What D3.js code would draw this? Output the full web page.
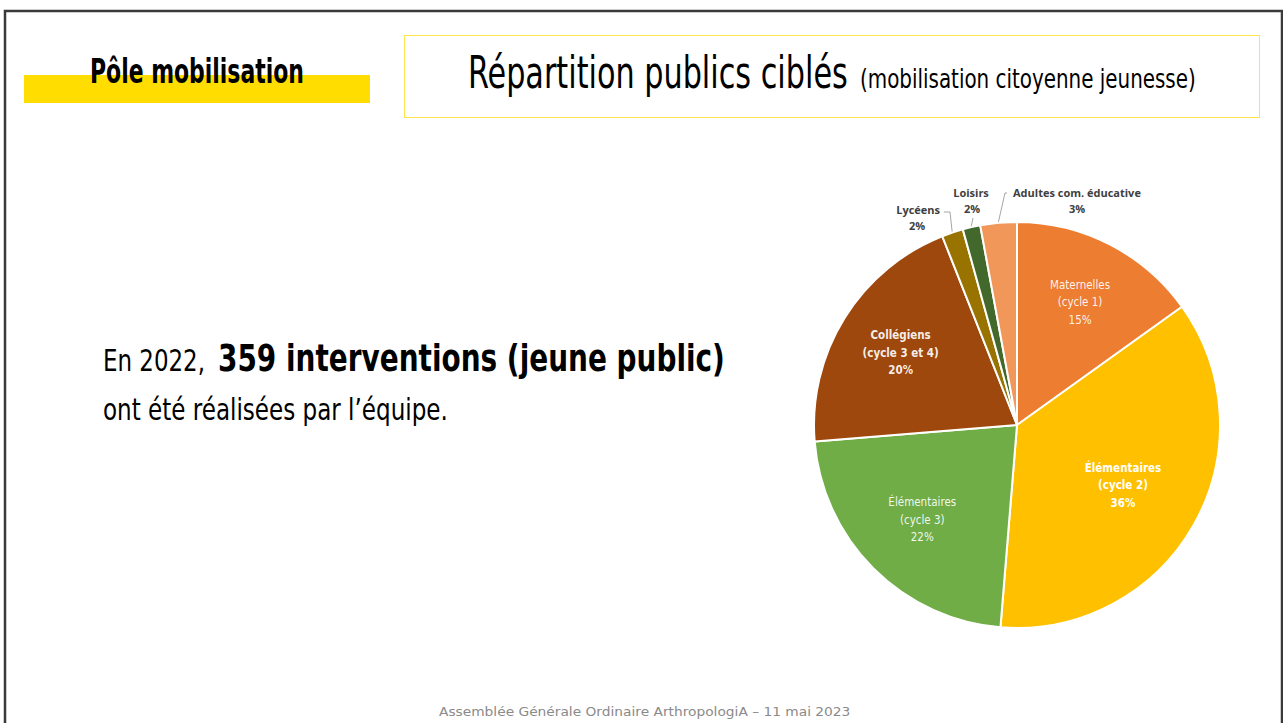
<!DOCTYPE html>
<html><head><meta charset="utf-8">
<script src="https://cdn.jsdelivr.net/npm/d3@7"></script>
<style>
html,body{margin:0;padding:0;background:#fff;overflow:hidden}
svg{display:block}
</style></head>
<body>
<script>
// ---- data ----
const categories = ["Maternelles", "Élémentaires", "Élémentaires", "Collégiens", "Lycéens", "Loisirs", "Adultes com. éducative"];
const subLabels = ["(cycle 1)", "(cycle 2)", "(cycle 3)", "(cycle 3 et 4)", "", "", ""];
const shares = [15.1, 36.2, 22.4, 20.3, 1.7, 1.4, 2.9];
const percentLabels = ["15%", "36%", "22%", "20%", "2%", "2%", "3%"];
const colors = ["#ED7D31", "#FFC000", "#70AD47", "#9E480E", "#997300", "#43682B", "#F1975A"];

const W = 1283, H = 723;
const svg = d3.select("body").append("svg").attr("width", W).attr("height", H);
const cond = "'Liberation Sans Narrow','DejaVu Sans Condensed','Roboto Condensed',Roboto,sans-serif";
const calibri = "'Open Sans','Noto Sans',sans-serif";

// text squeezed horizontally to a target width (keeps glyph height)
function fitText(str, x, y, size, width, opts = {}) {
  const t = svg.append("text").attr("x", 0).attr("y", 0)
    .attr("font-family", opts.family || cond).attr("font-size", size)
    .attr("font-weight", opts.weight || "normal").attr("fill", opts.fill || "#000").text(str);
  const w = t.node().getComputedTextLength();
  t.attr("transform", `translate(${x},${y}) scale(${width / w},1)`);
  return t;
}

// slide frame
svg.append("path").attr("d", `M5,${H+5} V11 H1282 V${H+5}`)
  .attr("fill", "none").attr("stroke", "#3a3a3a").attr("stroke-width", 2.5);

// header
svg.append("rect").attr("x", 24).attr("y", 75).attr("width", 346).attr("height", 28).attr("fill", "#FFDD00");
fitText("Pôle mobilisation", 90, 83, 33, 214, { weight: "bold" });

svg.append("rect").attr("x", 404.5).attr("y", 35.5).attr("width", 855).attr("height", 82)
  .attr("fill", "none").attr("stroke", "#FFE44D").attr("stroke-width", 1);
fitText("Répartition publics ciblés", 468, 88, 45, 380);
fitText("(mobilisation citoyenne jeunesse)", 860, 88, 26, 336);

// left text
fitText("En 2022,", 103, 371, 30, 102);
fitText("359 interventions (jeune public)", 218, 371, 38, 507, { weight: "bold" });
fitText("ont été réalisées par l’équipe.", 103, 420, 30, 345);

// footer
fitText("Assemblée Générale Ordinaire ArthropologiA – 11 mai 2023", 439, 716, 13, 412,
  { family: "'DejaVu Sans',sans-serif", fill: "#8a8a8a" });

// ---- pie ----
const cx = 1017, cy = 425, R = 203;
const g = svg.append("g").attr("transform", `translate(${cx},${cy})`);
const pie = d3.pie().sort(null).value(d => d)(shares);
const arc = d3.arc().innerRadius(0).outerRadius(R);
g.selectAll("path.slice").data(pie).join("path").attr("class", "slice")
  .attr("d", arc).attr("fill", (d, i) => colors[i])
  .attr("stroke", "#fff").attr("stroke-width", 2).attr("stroke-linejoin", "round");

// inside labels
const labelRadiusFactor = [0.68, 0.6, 0.66, 0.675];
const lineGap = 17.5;
pie.slice(0, 4).forEach((d, i) => {
  const a = (d.startAngle + d.endAngle) / 2;
  const rr = R * labelRadiusFactor[i];
  const x = rr * Math.sin(a), y = -rr * Math.cos(a);
  const t = g.append("text").attr("text-anchor", "middle").attr("font-family", cond)
    .attr("font-size", 11.5).attr("font-weight", i === 1 || i === 3 ? "bold" : "normal")
    .attr("fill", "#fff").attr("fill-opacity", i === 1 ? 1 : 0.92);
  [categories[i], subLabels[i], percentLabels[i]].forEach((s, k) => {
    t.append("tspan").attr("x", x).attr("y", y + (k - 1) * lineGap + 4).text(s);
  });
});

// outside labels with leader lines
const outside = [
  { i: 4, tx: -77, ty: -211, anchor: "end", px: -100, line: [[-73, -213], [-67, -213]] },
  { i: 5, tx: -46, ty: -228, anchor: "middle", px: -45, line: [[-44, -207]] },
  { i: 6, tx: -4, ty: -228, anchor: "start", px: 60, line: [[-10, -232], [-12, -232]] }
];
outside.forEach(o => {
  const d = pie[o.i];
  const a = (d.startAngle + d.endAngle) / 2;
  const ex = (R + 1) * Math.sin(a), ey = -(R + 1) * Math.cos(a);
  g.append("path").attr("d", d3.line()([...o.line, [ex, ey]]))
    .attr("fill", "none").attr("stroke", "#a6a6a6").attr("stroke-width", 1);
  const t = g.append("text").attr("font-family", calibri).attr("font-weight", "bold")
    .attr("font-size", 11).attr("fill", "#404040");
  t.append("tspan").attr("x", o.tx).attr("y", o.ty).attr("text-anchor", o.anchor).text(categories[o.i]);
  t.append("tspan").attr("x", o.px).attr("y", o.ty + 16).attr("text-anchor", "middle").text(percentLabels[o.i]);
});
</script>
</body></html>
